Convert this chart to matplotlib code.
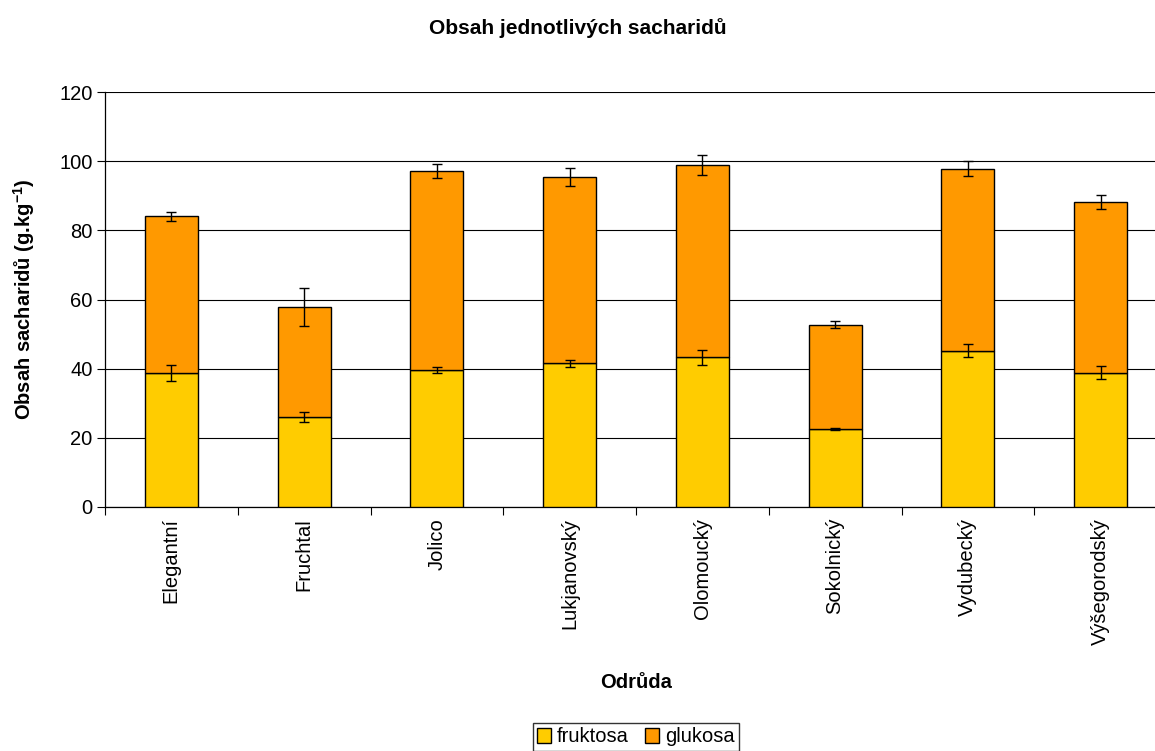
import matplotlib
matplotlib.use("Agg")
import matplotlib.pyplot as plt
import numpy as np
from matplotlib.patches import Patch

plt.rcParams['font.family'] = ['Liberation Sans', 'DejaVu Sans']
plt.rcParams['mathtext.fontset'] = 'custom'
plt.rcParams['mathtext.rm'] = 'Liberation Sans'
plt.rcParams['mathtext.bf'] = 'Liberation Sans:bold'

# data
odrudy = ['Elegantní', 'Fruchtal', 'Jolico', 'Lukjanovský', 'Olomoucký',
          'Sokolnický', 'Vydubecký', 'Výšegorodský']
fruktosa = [38.8, 26.1, 39.6, 41.5, 43.3, 22.6, 45.2, 38.8]
fruktosa_err = [2.4, 1.5, 0.9, 1.1, 2.1, 0.3, 1.8, 1.9]
glukosa = [45.2, 31.7, 57.5, 53.9, 55.7, 30.1, 52.6, 49.5]
glukosa_err = [1.3, 5.4, 2.0, 2.6, 2.9, 1.0, 2.2, 2.0]

c_fru = '#FFCC00'
c_glu = '#FF9900'

fig = plt.figure(figsize=(11.55, 7.51), dpi=100)
ax = fig.add_axes([105/1155, 244/751, 1062/1155, 415/751])

x = np.arange(len(odrudy))
w = 0.4
fru = np.array(fruktosa)
glu = np.array(glukosa)

ax.bar(x, fru, width=w, color=c_fru, edgecolor='black', linewidth=1, zorder=3)
ax.bar(x, glu, width=w, bottom=fru, color=c_glu, edgecolor='black', linewidth=1, zorder=3)
ax.errorbar(x, fru, yerr=fruktosa_err, fmt='none', ecolor='black', elinewidth=1,
            capsize=3.6, capthick=1, zorder=4)
ax.errorbar(x, fru + glu, yerr=glukosa_err, fmt='none', ecolor='black', elinewidth=1,
            capsize=3.6, capthick=1, zorder=4)

ax.set_xlim(-0.5, len(odrudy) - 0.5)
ax.set_ylim(0, 120)
ax.set_yticks(np.arange(0, 121, 20))
ax.yaxis.grid(True, color='black', linewidth=0.8, zorder=0)
ax.set_axisbelow(True)

# category boundary ticks, labels in the middle
ax.set_xticks(np.arange(-0.5, len(odrudy), 1))
ax.set_xticklabels([])
ax.set_xticks(x, minor=True)
ax.set_xticklabels(odrudy, minor=True, rotation=90, fontsize=14.5)
ax.tick_params(axis='x', which='major', length=6, width=0.8, direction='out')
ax.tick_params(axis='x', which='minor', length=0, pad=8)
ax.tick_params(axis='y', length=6, width=0.8, labelsize=14.5, pad=3)

for s in ['top', 'right']:
    ax.spines[s].set_visible(False)
ax.spines['left'].set_linewidth(0.9)
ax.spines['bottom'].set_linewidth(0.9)

ax.set_ylabel(r'Obsah sacharidů (g.kg$^{\mathbf{-1}}$)', fontsize=14.5, fontweight='bold')
ax.set_xlabel('Odrůda', fontsize=14.5, fontweight='bold')
ax.xaxis.set_label_coords(0.5, -(673 - 507) / 415)
ax.yaxis.set_label_coords(-(105 - 37) / 1062, 0.5)

fig.text(578/1155, 1 - 28/751, 'Obsah jednotlivých sacharidů', ha='center', va='center',
         fontsize=15, fontweight='bold')

handles = [Patch(facecolor=c_fru, edgecolor='black', label='fruktosa'),
           Patch(facecolor=c_glu, edgecolor='black', label='glukosa')]
fig.legend(handles=handles, loc='center', bbox_to_anchor=(636/1155, 1 - 737/751), ncol=2,
           fontsize=14.5, frameon=True, fancybox=False, edgecolor='black',
           handlelength=0.7, handleheight=0.7, handletextpad=0.3, columnspacing=0.8,
           borderpad=0.2, borderaxespad=0)

fig.savefig('out.png', dpi=100)
